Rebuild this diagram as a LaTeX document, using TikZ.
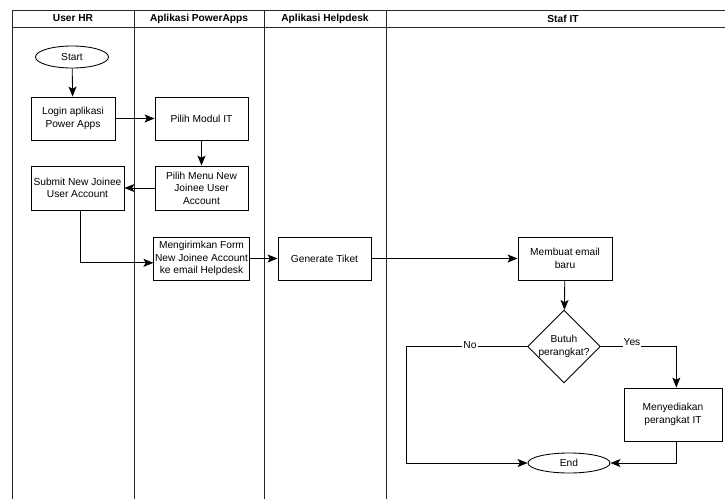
\documentclass[tikz,border=0pt]{standalone}
\usepackage{fontspec}
\setmainfont{Liberation Sans}
\usepackage{tikz}
\usetikzlibrary{calc}
\usetikzlibrary{shapes.geometric}
\usetikzlibrary{arrows.meta}

\tikzset{
  lane/.style={line width=0.026cm, draw=black!85},
  procbox/.style={draw, line width=0.026cm, rectangle, align=center, inner sep=1pt},
  termbox/.style={draw, line width=0.026cm, ellipse, inner sep=0pt},
  decbox/.style={draw, line width=0.026cm, diamond, inner sep=0pt, align=center},
  flow/.style={line width=0.026cm, -{Stealth[length=0.3cm,width=0.24cm,inset=0.07cm]}},
  flowlabel/.style={fill=white, inner sep=1pt}
}

\begin{document}
\begin{tikzpicture}[x=0.03cm, y=-0.03cm]
                \useasboundingbox (0,0) rectangle (725,499);
                {\fontsize{8.7}{10.7}\selectfont

                % Drawing lanes
                \draw [lane] (12,10) -- (725,10);%
                \draw [lane] (12,27) -- (725,27);%
                \draw [lane] (12,10) -- (12,499);%
                \draw [lane] (134,10) -- (134,499);%
                \draw [lane] (264,10) -- (264,499);%
                \draw [lane] (386,10) -- (386,499);%

                % Lane headers
                \node [font=\bfseries] (hdrhr) at (73,18.5) {User HR};%
                \node [font=\bfseries] (hdrpa) at (199,18.5) {Aplikasi PowerApps};%
                \node [font=\bfseries] (hdrhd) at (325,18.5) {Aplikasi Helpdesk};%
                \node [font=\bfseries] (hdrit) at (563,18.5) {Staf IT};%

                % Steps
                \node [termbox, minimum width=2.19cm, minimum height=0.66cm] (start) at (72,57) {Start};%
                \node [procbox, minimum width=2.52cm, minimum height=1.29cm] (login) at (73,118.5) {Login aplikasi\\Power Apps};%
                \node [procbox, minimum width=2.79cm, minimum height=1.29cm] (modul) at (201.5,118.5) {Pilih Modul IT};%
                \node [procbox, minimum width=2.79cm, minimum height=1.32cm] (menu) at (201.5,188) {Pilih Menu New\\Joinee User\\Account};%
                \node [procbox, minimum width=2.79cm, minimum height=1.32cm] (submit) at (77.5,188) {Submit New Joinee\\User Account};%
                \node [procbox, minimum width=2.79cm, minimum height=1.29cm] (kirim) at (201.5,258.5) {Mengirimkan Form\\New Joinee Account\\ke email Helpdesk};%
                \node [procbox, minimum width=2.79cm, minimum height=1.29cm] (tiket) at (324.5,258.5) {Generate Tiket};%
                \node [procbox, minimum width=2.82cm, minimum height=1.29cm] (email) at (565,258.5) {Membuat email\\baru};%
                \node [decbox, minimum width=2.1cm, minimum height=2.19cm] (butuh) at (564,346.5) {Butuh\\perangkat?};%
                \node [procbox, minimum width=2.94cm, minimum height=1.59cm] (sedia) at (673,414.5) {Menyediakan\\perangkat IT};%
                \node [termbox, minimum width=2.46cm, minimum height=0.6cm] (end) at (569,463) {End};%
                \coordinate (nobend) at (406,346.5);%

                % Drawing connectors
                \draw [flow] (start) -- (login);%
                \draw [flow] (login) -- (modul);%
                \draw [flow] (modul) -- (menu);%
                \draw [flow] (menu) -- (submit);%
                \draw [flow] ([xshift=0.1cm]submit.south) |- ([yshift=-0.13cm]kirim.west);%
                \draw [flow] (kirim) -- (tiket);%
                \draw [flow] (tiket) -- (email);%
                \draw [flow] (email) -- (butuh);%
                \draw [flow] (butuh.west) -- (nobend) |- (end.west);%
                \draw [flow] (butuh.east) -| ([xshift=0.1cm]sedia.north);%
                \draw [flow] ([xshift=0.1cm]sedia.south) |- (end.east);%

                % Labels on the decision
                \node [flowlabel] (nolabel) at (470,345) {No};%
                \node [flowlabel] (yeslabel) at (632,342) {Yes};%
                }
            \end{tikzpicture}
\end{document}
